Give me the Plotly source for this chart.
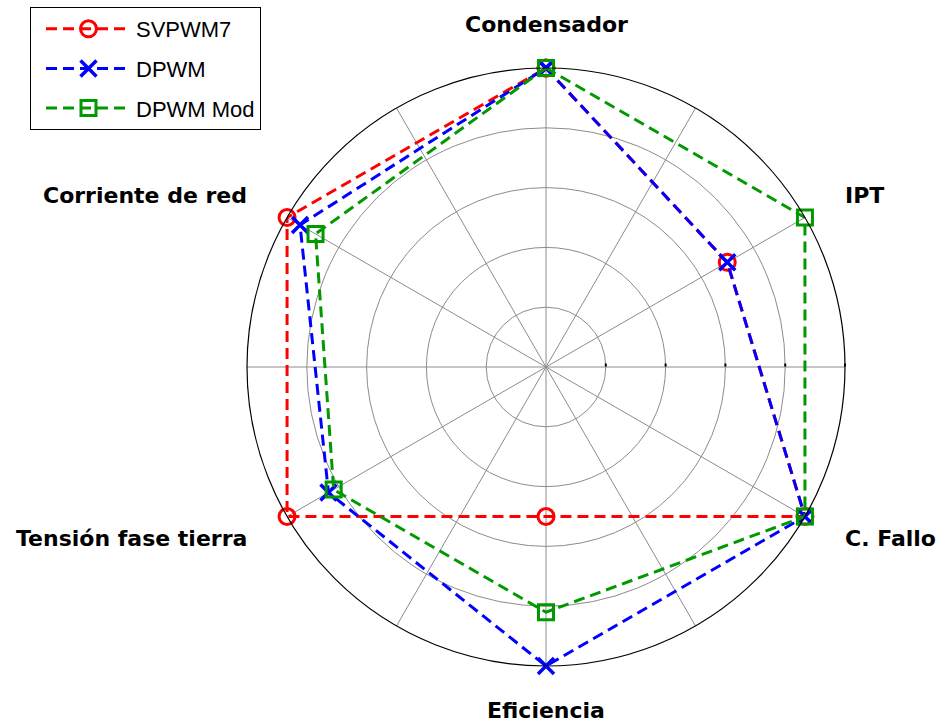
import plotly.graph_objects as go
import math

# Categories and their angular position (degrees, counter-clockwise from east)
categories = ["Condensador", "IPT", "C. Fallo", "Eficiencia", "Tensión fase tierra", "Corriente de red"]
angles = [90, 30, -30, 270, 210, 150]

# Normalised scores per modulation strategy
svpwm7 = [1.00, 0.70, 1.00, 0.50, 1.00, 1.00]
dpwm = [1.00, 0.70, 1.00, 1.00, 0.84, 0.95]
dpwm_mod = [1.00, 1.00, 1.00, 0.82, 0.82, 0.89]

series = [
    ("SVPWM7", svpwm7, "#ff0000", "circle-open", 16, 3),
    ("DPWM", dpwm, "#0000ff", "x-thin-open", 16, 3.5),
    ("DPWM Mod", dpwm_mod, "#009900", "square-open", 15, 3),
]

W, H = 941, 724
cx, cy, R = 546, 367, 299

fig = go.Figure()
for i, (name, vals, color, symbol, msize, mlw) in enumerate(series):
    fig.add_trace(go.Scatterpolar(
        r=vals + vals[:1],
        theta=angles + angles[:1],
        mode="lines+markers",
        name=name,
        legendgroup=name,
        line=dict(color=color, width=3, dash="11px,6px"),
        marker=dict(symbol=symbol, size=msize, color=color,
                    line=dict(color=color, width=mlw)),
        cliponaxis=False,
    ))

fig.update_layout(
    width=W, height=H,
    margin=dict(l=0, r=0, t=0, b=0),
    paper_bgcolor="white",
    plot_bgcolor="white",
    font=dict(family="Liberation Sans, Arial, sans-serif", color="black"),
    polar=dict(
        domain=dict(x=[(cx - R) / W, (cx + R) / W],
                    y=[1 - (cy + R) / H, 1 - (cy - R) / H]),
        bgcolor="white",
        radialaxis=dict(
            range=[0, 1], tickvals=[0.2, 0.4, 0.6, 0.8, 1.0],
            showticklabels=False, showline=False,
            ticks="inside", ticklen=3, tickcolor="black", tickwidth=2,
            gridcolor="#8c8c8c", gridwidth=1, angle=0,
        ),
        angularaxis=dict(
            rotation=0, direction="counterclockwise",
            tickmode="array", tickvals=list(range(0, 360, 30)),
            showticklabels=False, ticks="",
            gridcolor="#8c8c8c", gridwidth=1,
            showline=True, linecolor="black", linewidth=1.2,
        ),
    ),
    legend=dict(
        x=30 / W, y=1 - 7 / H, xanchor="left", yanchor="top",
        bgcolor="white", bordercolor="black", borderwidth=1,
        font=dict(size=22, family="Liberation Sans, Arial, sans-serif"),
        itemwidth=85, tracegroupgap=8, indentation=10,
    ),
    showlegend=True,
)

# Category labels placed just outside the outer ring
label_r = 343
for cat, ang in zip(categories, angles):
    a = math.radians(ang)
    px = cx + label_r * math.cos(a)
    py = cy - label_r * math.sin(a)
    c = math.cos(a)
    if abs(c) < 0.1:
        xanchor = "center"
    elif c > 0:
        xanchor = "left"
    else:
        xanchor = "right"
    fig.add_annotation(
        x=px / W, y=1 - py / H, xref="paper", yref="paper",
        text=f"<b>{cat}</b>", showarrow=False,
        xanchor=xanchor, yanchor="middle",
        font=dict(size=22, color="black", family="DejaVu Sans, sans-serif"),
    )

fig.write_html("out.html")
